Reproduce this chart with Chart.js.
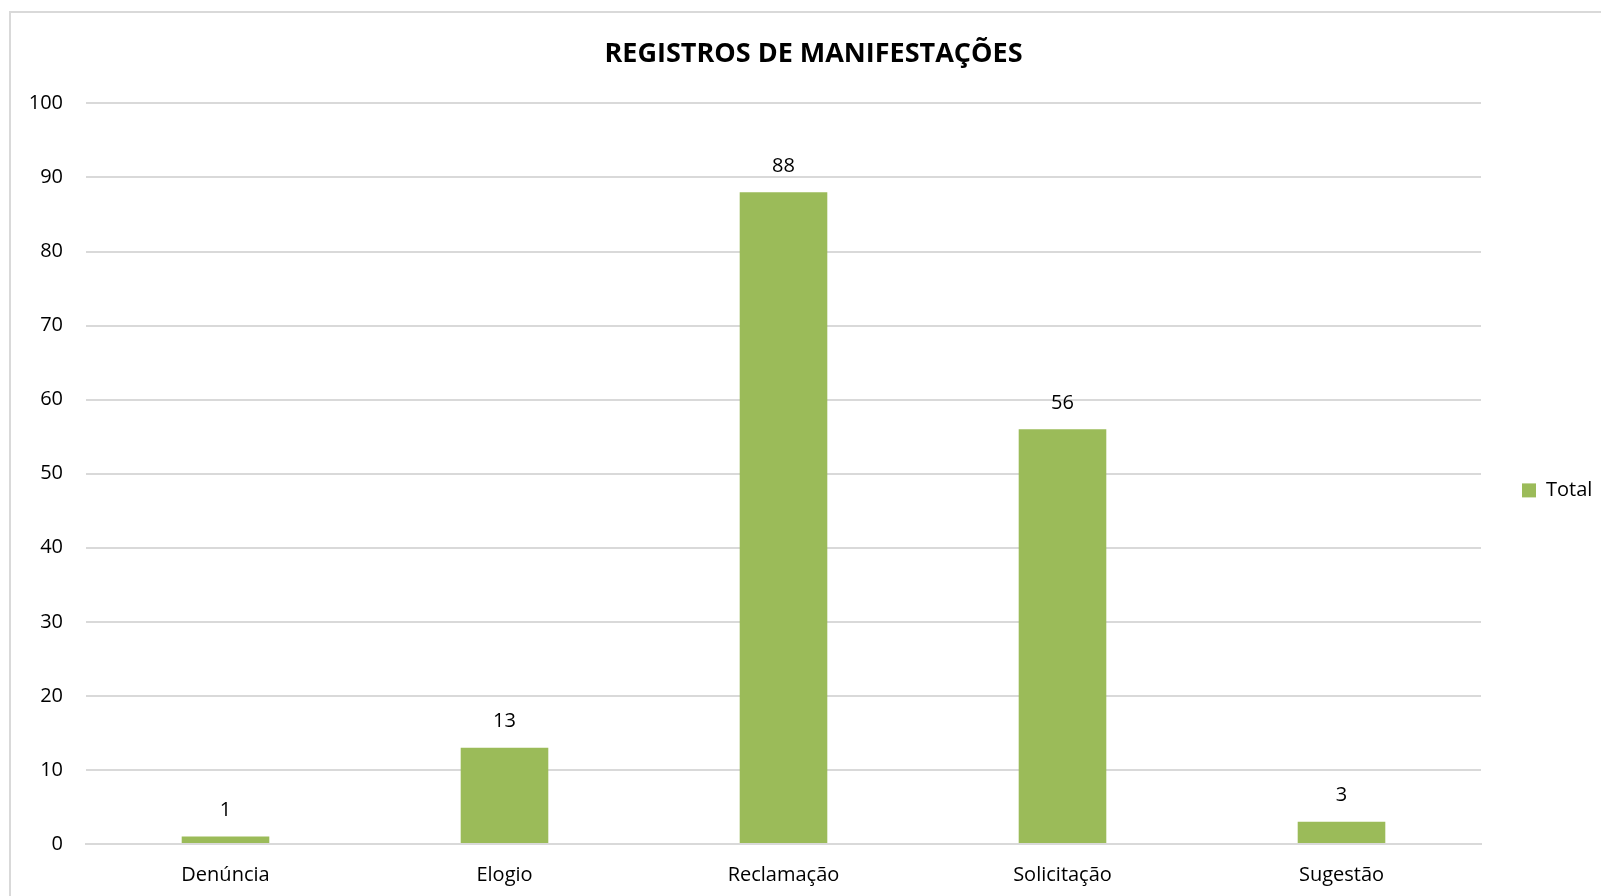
<!DOCTYPE html>
<html>
<head>
<meta charset="utf-8">
<script src="https://cdn.jsdelivr.net/npm/chart.js@4/dist/chart.umd.min.js"></script>
<style>
  html, body { margin: 0; padding: 0; background: #fff; overflow: hidden; }
  #frame { position: absolute; left: 9px; top: 11px; width: 1700px; height: 1000px; border: 2px solid #d9d9d9; }
  #wrap { position: absolute; left: 0; top: 0; width: 1601px; height: 896px; }
</style>
</head>
<body>
<div id="frame"></div>
<div id="wrap"><canvas id="chart"></canvas></div>
<script>
// dados do gráfico
const categories = ["Denúncia", "Elogio", "Reclamação", "Solicitação", "Sugestão"];
const totals = [1, 13, 88, 56, 3];
const yTicks = [0, 10, 20, 30, 40, 50, 60, 70, 80, 90, 100];

const barColor = "#9bbb59";
const gridColor = "#d9d9d9";
const textColor = "#000000";
const fontFamily = "'Open Sans', sans-serif";

// rótulos de valor acima das barras
const valueLabels = {
    id: "valueLabels",
    afterDatasetsDraw(chart) {
        const ctx = chart.ctx;
        const meta = chart.getDatasetMeta(0);
        ctx.save();
        ctx.font = "20px " + fontFamily;
        ctx.fillStyle = textColor;
        ctx.textAlign = "center";
        ctx.textBaseline = "middle";
        meta.data.forEach((bar, i) => {
            ctx.fillText(String(totals[i]), bar.x, bar.y - 26);
        });
        ctx.restore();
    }
};

new Chart(document.getElementById("chart"), {
    type: "bar",
    data: {
        labels: categories,
        datasets: [{
            label: "Total",
            data: totals,
            backgroundColor: barColor,
            borderWidth: 0,
            categoryPercentage: 1,
            barPercentage: 0.314
        }]
    },
    options: {
        responsive: true,
        maintainAspectRatio: false,
        animation: false,
        layout: { padding: { left: 26, right: 0, top: 0, bottom: -10 } },
        plugins: {
            title: {
                display: true,
                text: "REGISTROS DE MANIFESTAÇÕES",
                color: textColor,
                font: { family: fontFamily, size: 27, weight: "bold" },
                padding: { top: 38, bottom: 33 }
            },
            legend: {
                position: "right",
                maxWidth: 120,
                // título vazio só para empurrar a legenda para baixo
                title: { display: true, text: "", font: { size: 29 }, padding: { top: 40, bottom: 0 } },
                labels: {
                    color: textColor,
                    font: { family: fontFamily, size: 20 },
                    boxWidth: 14,
                    boxHeight: 14,
                    padding: 41
                }
            },
            tooltip: { enabled: false }
        },
        scales: {
            x: {
                grid: { display: false, drawTicks: false },
                border: { display: true, color: gridColor, width: 2 },
                ticks: {
                    color: textColor,
                    font: { family: fontFamily, size: 20 },
                    padding: 19
                }
            },
            y: {
                min: yTicks[0],
                max: yTicks[yTicks.length - 1],
                afterFit(scale) { scale.width = 60; },
                afterBuildTicks(scale) { scale.ticks = yTicks.map(v => ({ value: v })); },
                grid: { color: gridColor, lineWidth: 2, drawTicks: false },
                border: { display: false },
                ticks: {
                    color: textColor,
                    font: { family: fontFamily, size: 20 },
                    padding: 23
                }
            }
        }
    },
    plugins: [valueLabels]
});
</script>
</body>
</html>
